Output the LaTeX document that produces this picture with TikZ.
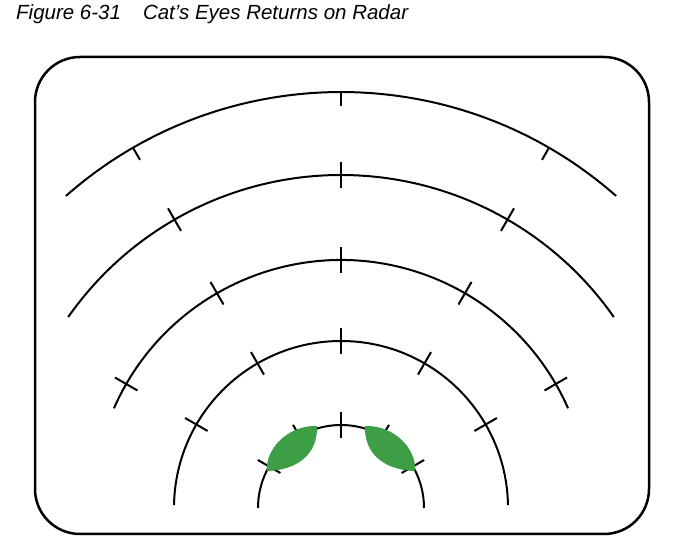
\documentclass[tikz,border=0pt]{standalone}
\usepackage{fontspec}
\setmainfont{Liberation Sans}
\definecolor{eyegreen}{RGB}{62,158,70}
\begin{document}
\begin{tikzpicture}[x=1pt,y=1pt,
  ring/.style={line width=2pt},
  tickmark/.style={line width=2pt},
  frame/.style={line width=2.5pt, rounded corners=45pt},
  eye/.style={fill=eyegreen, draw=none}]
\useasboundingbox (0,0) rectangle (677,543);
\node[anchor=base west, font=\itshape\fontsize{20.5}{24}\selectfont, inner sep=0] (title) at (16,523.5) {Figure 6-31\hspace{22pt}Cat’s Eyes Returns on Radar};
\draw[frame] (35,9) rectangle (649,486);
\coordinate (C) at (341,35);
% range rings
\foreach \r/\e in {83/90, 167/89, 248/66.3, 333/55, 416/41.4}{
  \pgfmathsetmacro\sa{90+\e}
  \pgfmathsetmacro\ea{90-\e}
  \draw[ring] ([shift={(\sa:\r)}]C) arc[start angle=\sa, end angle=\ea, radius=\r];
}
% full cross ticks
\foreach \r in {83,167,248}{
  \foreach \a in {-60,-30,0,30,60}{
    \pgfmathsetmacro\ang{90+\a}
    \pgfmathsetmacro\ri{\r-13}
    \pgfmathsetmacro\ro{\r+13}
    \draw[tickmark] ([shift={(\ang:\ri)}]C) -- ([shift={(\ang:\ro)}]C);
  }
}
\foreach \a in {-30,0,30}{
  \pgfmathsetmacro\ang{90+\a}
  \draw[tickmark] ([shift={(\ang:320)}]C) -- ([shift={(\ang:346)}]C);
  \draw[tickmark] ([shift={(\ang:402)}]C) -- ([shift={(\ang:416)}]C);
}
% cat's eyes
\fill[eye] (317,117) .. controls (287,118) and (265,93) .. (267,72) .. controls (300,73) and (318,91) .. (317,117) -- cycle;
\fill[eye] (365,117) .. controls (395,118) and (417,93) .. (415,72) .. controls (382,73) and (364,91) .. (365,117) -- cycle;
\end{tikzpicture}
\end{document}
